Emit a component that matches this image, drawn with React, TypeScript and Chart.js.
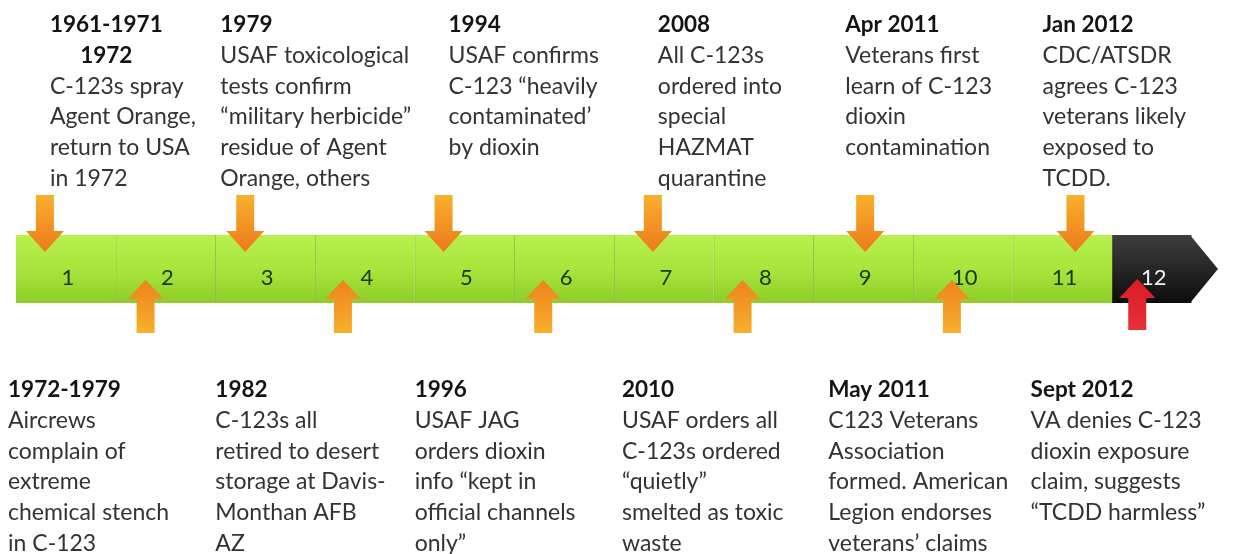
import { useEffect, useRef } from "react";
import { Chart, registerables } from "chart.js";

Chart.register(...registerables);

// ---------------- data ----------------
const segmentLabels = ["1", "2", "3", "4", "5", "6", "7", "8", "9", "10", "11", "12"];
const segmentStart = [0, 1, 2, 3, 4, 5, 6, 7, 8, 9, 10, 11];
const segmentEnd = [1, 2, 3, 4, 5, 6, 7, 8, 9, 10, 11, 11.79];
const timelineTip = 12.06;

const downArrowAt = [0.29, 2.3, 4.29, 6.39, 8.52, 10.63];
const upArrowAt = [1.3, 3.28, 5.29, 7.29, 9.39, 11.25];
const upArrowKind = ["orange", "orange", "orange", "orange", "orange", "red"];

const topNoteAt = [0.34, 2.05, 4.34, 6.44, 8.32, 10.3];
const topTitles = [["1961-1971", "1972"], ["1979"], ["1994"], ["2008"], ["Apr 2011"], ["Jan 2012"]];
const topBodies = [
  ["C-123s spray", "Agent Orange,", "return to USA", "in 1972"],
  ["USAF toxicological", "tests confirm", "\u201Cmilitary herbicide\u201D", "residue of Agent", "Orange, others"],
  ["USAF confirms", "C-123 \u201Cheavily", "contaminated\u2019", "by dioxin"],
  ["All C-123s", "ordered into", "special", "HAZMAT", "quarantine"],
  ["Veterans first", "learn of C-123", "dioxin", "contamination"],
  ["CDC/ATSDR", "agrees C-123", "veterans likely", "exposed to", "TCDD."],
];

const bottomNoteAt = [-0.08, 2.0, 4.0, 6.08, 8.15, 10.18];
const bottomTitles = [["1972-1979"], ["1982"], ["1996"], ["2010"], ["May 2011"], ["Sept 2012"]];
const bottomBodies = [
  ["Aircrews", "complain of", "extreme", "chemical stench", "in C-123"],
  ["C-123s all", "retired to desert", "storage at Davis-", "Monthan AFB", "AZ"],
  ["USAF JAG", "orders dioxin", "info \u201Ckept in", "official channels", "only\u201D"],
  ["USAF orders all", "C-123s ordered", "\u201Cquietly\u201D", "smelted as toxic", "waste"],
  ["C123 Veterans", "Association", "formed. American", "Legion endorses", "veterans\u2019 claims"],
  ["VA denies C-123", "dioxin exposure", "claim, suggests", "\u201CTCDD harmless\u201D"],
];

// ---------------- styles ----------------
const FONT = "Lato, 'Open Sans', sans-serif";
const TEXT_SIZE = 23;
const TITLE_SIZE = 22.5;
const LINE_H = 30.8;

function greenGradient(chart: any) {
  const { ctx, chartArea } = chart;
  if (!chartArea) return "#a5e23a";
  const g = ctx.createLinearGradient(0, chartArea.top, 0, chartArea.bottom);
  g.addColorStop(0, "#b9f04e");
  g.addColorStop(0.5, "#a8e53c");
  g.addColorStop(1, "#8fcd2a");
  return g;
}

function blackGradient(chart: any) {
  const { ctx, chartArea } = chart;
  if (!chartArea) return "#222";
  const g = ctx.createLinearGradient(0, chartArea.top, 0, chartArea.bottom);
  g.addColorStop(0, "#3e3e3e");
  g.addColorStop(0.5, "#262626");
  g.addColorStop(1, "#0c0c0c");
  return g;
}

function drawArrow(ctx: CanvasRenderingContext2D, ax: number, tipY: number, baseY: number, tailY: number, headHalf: number, shaftHalf: number, light: string, dark: string) {
  const g = ctx.createLinearGradient(0, tailY, 0, tipY);
  g.addColorStop(0, light);
  g.addColorStop(1, dark);
  ctx.beginPath();
  ctx.moveTo(ax - shaftHalf, tailY);
  ctx.lineTo(ax + shaftHalf, tailY);
  ctx.lineTo(ax + shaftHalf, baseY);
  ctx.lineTo(ax + headHalf, baseY);
  ctx.lineTo(ax, tipY);
  ctx.lineTo(ax - headHalf, baseY);
  ctx.lineTo(ax - shaftHalf, baseY);
  ctx.closePath();
  ctx.fillStyle = g;
  ctx.fill();
}

function drawBlock(ctx: CanvasRenderingContext2D, x0: number, y0: number, titles: string[], body: string[]) {
  ctx.textAlign = "left";
  ctx.textBaseline = "alphabetic";
  let y = y0;
  ctx.font = `bold ${TITLE_SIZE}px ${FONT}`;
  ctx.fillStyle = "#141414";
  const w0 = ctx.measureText(titles[0]).width;
  titles.forEach((t, k) => {
    const w = ctx.measureText(t).width;
    const xx = k === 0 ? x0 : x0 + (w0 - w) / 2;
    ctx.fillText(t, xx, y);
    y += LINE_H;
  });
  ctx.font = `${TEXT_SIZE}px ${FONT}`;
  ctx.fillStyle = "#333333";
  body.forEach((t) => {
    ctx.fillText(t, x0, y);
    y += LINE_H;
  });
}

const timelinePlugin = {
  id: "timelineDecor",
  afterDatasetsDraw(chart: any) {
    const { ctx, chartArea } = chart;
    const x = chart.scales.x;
    const top = chartArea.top;
    const bottom = chartArea.bottom;
    const mid = (top + bottom) / 2;
    ctx.save();

    // chevron tip of the last segment
    const xs = x.getPixelForValue(segmentEnd[segmentEnd.length - 1]);
    const xt = x.getPixelForValue(timelineTip);
    ctx.beginPath();
    ctx.moveTo(xs - 1, top);
    ctx.lineTo(xt, mid);
    ctx.lineTo(xs - 1, bottom);
    ctx.closePath();
    ctx.fillStyle = blackGradient(chart);
    ctx.fill();

    // segment numbers
    ctx.font = `22px ${FONT}`;
    ctx.textAlign = "center";
    ctx.textBaseline = "middle";
    segmentLabels.forEach((lab, i) => {
      const cx = (x.getPixelForValue(segmentStart[i]) + x.getPixelForValue(segmentEnd[i])) / 2;
      ctx.fillStyle = i === segmentLabels.length - 1 ? "#f2f2f2" : "#1a360a";
      ctx.fillText(lab, cx + 2, mid + 9);
    });

    // arrows
    downArrowAt.forEach((v) => {
      const ax = x.getPixelForValue(v);
      drawArrow(ctx, ax, top + 17, top - 4, top - 40, 19, 9, "#f8b02c", "#ec7a1c");
    });
    upArrowAt.forEach((v, i) => {
      const ax = x.getPixelForValue(v);
      if (upArrowKind[i] === "red") {
        drawArrow(ctx, ax, bottom - 24, bottom - 5, bottom + 27, 18, 9, "#e8303a", "#d81c26");
      } else {
        drawArrow(ctx, ax, bottom - 23, bottom - 4, bottom + 30, 18, 9, "#f8b02c", "#ee821e");
      }
    });

    // notes
    topTitles.forEach((t, i) => {
      drawBlock(ctx, x.getPixelForValue(topNoteAt[i]), top - 203, t, topBodies[i]);
    });
    bottomTitles.forEach((t, i) => {
      drawBlock(ctx, x.getPixelForValue(bottomNoteAt[i]), bottom + 94, t, bottomBodies[i]);
    });

    ctx.restore();
  },
};

export default function App() {
  const canvasRef = useRef<HTMLCanvasElement | null>(null);

  useEffect(() => {
    if (!canvasRef.current) return;
    const datasets = segmentLabels.map((lab, i) => ({
      label: lab,
      data: [[segmentStart[i], segmentEnd[i]]],
      backgroundColor: (c: any) => (i === segmentLabels.length - 1 ? blackGradient(c.chart) : greenGradient(c.chart)),
      borderColor: "rgba(104,160,34,0.75)",
      borderWidth: { left: i > 0 && i < segmentLabels.length - 1 ? 1 : 0, right: 0, top: 0, bottom: 0 },
      borderSkipped: false,
      grouped: false,
      barPercentage: 1,
      categoryPercentage: 1,
    }));
    const chart = new Chart(canvasRef.current, {
      type: "bar",
      data: { labels: ["timeline"], datasets: datasets as any },
      options: {
        indexAxis: "y",
        responsive: false,
        animation: false,
        layout: { padding: { left: 16, right: 29, top: 235, bottom: 251 } },
        scales: {
          x: { type: "linear", min: 0, max: 12, display: false },
          y: { type: "category", display: false },
        },
        plugins: { legend: { display: false }, tooltip: { enabled: false } },
      } as any,
      plugins: [timelinePlugin],
    });
    return () => chart.destroy();
  }, []);

  return (
    <div style={{ position: "fixed", left: 0, top: 0, width: 1241, height: 554, background: "#ffffff" }}>
      <canvas ref={canvasRef} width={1241} height={554} style={{ width: 1241, height: 554, display: "block" }} />
    </div>
  );
}
